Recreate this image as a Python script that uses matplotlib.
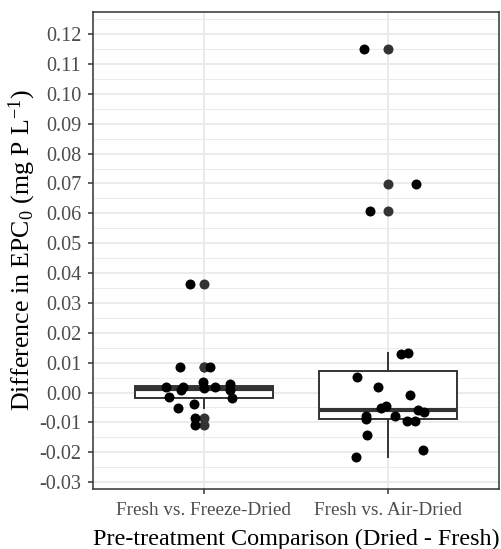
import matplotlib
matplotlib.use("Agg")
import matplotlib.pyplot as plt
import numpy as np

plt.rcParams['font.family'] = ['Liberation Serif', 'DejaVu Serif']
plt.rcParams['mathtext.fontset'] = 'custom'
plt.rcParams['mathtext.rm'] = 'Liberation Serif'
plt.rcParams['mathtext.it'] = 'Liberation Serif:italic'
plt.rcParams['mathtext.bf'] = 'Liberation Serif:bold'

categories = ["Fresh vs. Freeze-Dried", "Fresh vs. Air-Dried"]

# box statistics
q1 = [-0.0017, -0.0090]
med = [0.0011, -0.0057]
q3 = [0.0022, 0.0073]
whislo = [-0.0051, -0.0215]
whishi = [0.0032, 0.0133]
fliers = [[0.0365, 0.0086, 0.0085, -0.0085, -0.0109],
          [0.115, 0.0697, 0.0607]]

# jittered observations (value, horizontal jitter offset)
fd_values = [0.0365, 0.0086, 0.0085, 0.0019, -0.0014, 0.0019, 0.0008, 0.0036,
             0.0014, 0.0017, 0.0030, 0.0008, -0.0018, -0.0051, -0.0039,
             -0.0085, -0.0109]
fd_jitter = [-0.076, -0.13, 0.033, -0.207, -0.19, -0.114, -0.125, -0.005,
             0.0, 0.06, 0.141, 0.141, 0.152, -0.141, -0.054, -0.049, -0.049]
ad_values = [0.115, 0.0697, 0.0607, 0.0129, 0.0133, 0.0053, 0.0019, -0.0008,
             -0.0052, -0.0046, -0.0059, -0.0066, -0.0077, -0.0088, -0.0078,
             -0.0096, -0.0096, -0.0143, -0.0215, -0.0193]
ad_jitter = [-0.13, 0.152, -0.098, 0.071, 0.109, -0.168, -0.054, 0.12,
             -0.038, -0.011, 0.163, 0.196, -0.12, -0.12, 0.038, 0.103,
             0.147, -0.114, -0.174, 0.19]

yticks = np.round(np.arange(-0.03, 0.1201, 0.01), 2)
yminor = np.round(np.arange(-0.03, 0.1251, 0.005), 3)

fig = plt.figure(figsize=(5.01, 5.49), dpi=100)
ax = fig.add_axes([93/501, 60/549, 406/501, 477/549])

grey20 = '#333333'
grey30 = '#4D4D4D'
grid = '#EBEBEB'

stats = []
for i in range(2):
    stats.append(dict(q1=q1[i], med=med[i], q3=q3[i], whislo=whislo[i],
                      whishi=whishi[i], fliers=fliers[i], label=categories[i]))

ax.bxp(stats, positions=[1, 2], widths=0.75, patch_artist=True, showcaps=False,
       boxprops=dict(facecolor='white', edgecolor=grey20, linewidth=1.4),
       medianprops=dict(color=grey20, linewidth=3.0, solid_capstyle='butt'),
       whiskerprops=dict(color=grey20, linewidth=1.4),
       flierprops=dict(marker='o', markerfacecolor=grey20, markeredgecolor='none',
                       markersize=7.2),
       zorder=2)

ax.plot(1 + np.array(fd_jitter), fd_values, 'o', color='black', markersize=7.2,
        markeredgewidth=0, zorder=3)
ax.plot(2 + np.array(ad_jitter), ad_values, 'o', color='black', markersize=7.2,
        markeredgewidth=0, zorder=3)

ax.set_xlim(0.4, 2.6)
ax.set_ylim(-0.0323, 0.1274)
ax.set_yticks(yticks)
ax.set_yticklabels([f"{v:.2f}" for v in yticks])
ax.set_yticks(yminor, minor=True)
ax.set_xticks([1, 2])
ax.set_xticklabels(categories)

ax.set_axisbelow(True)
ax.grid(True, which='major', color=grid, linewidth=1.4)
ax.grid(True, which='minor', axis='y', color=grid, linewidth=0.7)
ax.tick_params(which='minor', length=0)
ax.tick_params(which='major', length=3.5, width=1.1, color=grey20,
               labelcolor=grey30, labelsize=13.8)
ax.tick_params(axis='y', labelsize=14.6, pad=5)
ax.tick_params(axis='x', pad=6)
for s in ax.spines.values():
    s.set_color(grey20)
    s.set_linewidth(1.1)

ax.set_xlabel("Pre-treatment Comparison (Dried - Fresh)", fontsize=17.4,
              color='black', labelpad=7)
ax.set_ylabel(r"Difference in EPC$_0$ (mg P L$^{-1}$)", fontsize=18.6,
              color='black')
ax.yaxis.set_label_coords(-(93 - 38) / 406, 0.5)

fig.savefig("out.png", dpi=100)
